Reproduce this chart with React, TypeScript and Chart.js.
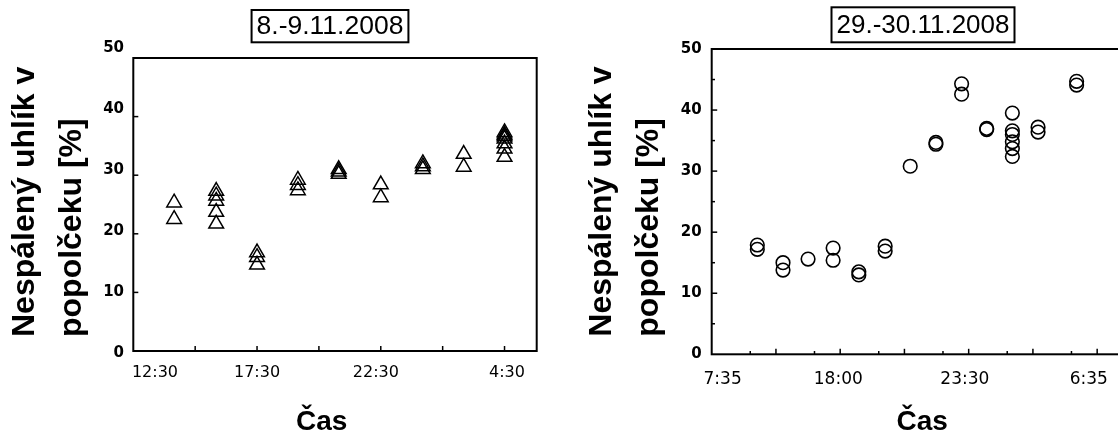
import React, { useEffect, useRef } from 'react';
import { Chart, registerables } from 'chart.js';

Chart.register(...registerables);
Chart.defaults.font.family = 'Liberation Sans';
Chart.defaults.color = '#000';

// ---------- texts ----------
const leftTitle = '8.-9.11.2008';
const rightTitle = '29.-30.11.2008';
const yAxisTitle = ['Nespálený uhlík v', 'popolčeku [%]'];
const xAxisTitle = 'Čas';

// ---------- left chart (8.-9.11.2008) ----------
const leftGroupX = [0.66, 1.34, 2.0, 2.66, 3.32, 4.0, 4.68, 5.34, 6.0];
const leftGroupY = [
  [25.3, 22.5],
  [27.3, 26.5, 25.6, 23.7, 21.7],
  [16.8, 16.0, 14.7],
  [29.2, 28.3, 27.4],
  [31.0, 30.6, 30.2],
  [28.4, 26.2],
  [32.0, 31.5, 31.0],
  [33.6, 31.4],
  [37.3, 36.9, 36.6, 36.2, 35.4, 34.5, 33.1],
];
const leftXLabels = ['12:30', '17:30', '22:30', '4:30'];
const leftXLabelAt = [0.35, 2.0, 3.92, 6.04];
const leftXMajor = [1, 2, 3, 4, 5, 6];
const leftYMajor = [10, 20, 30, 40];
const yLabelValues = [0, 10, 20, 30, 40, 50];

// ---------- right chart (29.-30.11.2008) ----------
const rightGroupX = [0.71, 1.11, 1.5, 1.89, 2.29, 2.7, 3.09, 3.49, 3.89, 4.28, 4.68, 5.08, 5.68];
const rightGroupY = [
  [17.9, 17.2],
  [15.0, 13.8],
  [15.6],
  [17.4, 15.4],
  [13.5, 13.0],
  [17.7, 16.9],
  [30.8],
  [34.7, 34.4],
  [44.3, 42.6],
  [37.0, 36.8],
  [39.5, 36.6, 36.0, 34.8, 33.7, 32.4],
  [37.2, 36.4],
  [44.7, 44.1],
];
const rightXLabels = ['7:35', '18:00', '23:30', '6:35'];
const rightXLabelAt = [0.17, 1.97, 3.94, 5.87];
const rightXMajor = [1, 2, 3, 4, 5, 6];
const rightXMinor = [0.6, 1.6, 2.6, 3.6, 4.6, 5.6];
const rightYMajor = [10, 20, 30, 40];
const rightYMinor = [5, 15, 25, 35, 45];

function toPoints(xs: number[], ys: number[][]) {
  const pts: { x: number; y: number }[] = [];
  xs.forEach((x, i) => ys[i].forEach((y) => pts.push({ x, y })));
  return pts;
}

// frame, inward tick marks and the boxed title
const decor = {
  id: 'decor',
  afterDraw(chart: any, _args: any, o: any) {
    const { ctx, chartArea: a } = chart;
    const xs = chart.scales.x;
    const ys = chart.scales.y;
    ctx.save();
    ctx.strokeStyle = '#000';
    ctx.lineWidth = 2;
    ctx.strokeRect(a.left, a.top, a.right - a.left, a.bottom - a.top);
    ctx.lineWidth = 1.5;
    const seg = (x1: number, y1: number, x2: number, y2: number) => {
      ctx.beginPath();
      ctx.moveTo(x1, y1);
      ctx.lineTo(x2, y2);
      ctx.stroke();
    };
    (o.majorX || []).forEach((v: number) => {
      const p = xs.getPixelForValue(v);
      seg(p, a.bottom, p, a.bottom - o.majorLen);
    });
    (o.minorX || []).forEach((v: number) => {
      const p = xs.getPixelForValue(v);
      seg(p, a.bottom, p, a.bottom - o.minorLen);
    });
    (o.majorY || []).forEach((v: number) => {
      const p = ys.getPixelForValue(v);
      seg(a.left, p, a.left + o.majorLen, p);
    });
    (o.minorY || []).forEach((v: number) => {
      const p = ys.getPixelForValue(v);
      seg(a.left, p, a.left + o.minorLen, p);
    });
    const t = chart.options.plugins.title;
    const tb = chart.titleBlock;
    if (t && t.display && tb) {
      ctx.font = `${t.font.weight || 'normal'} ${t.font.size}px ${t.font.family}`;
      const w = ctx.measureText(t.text).width;
      const cx = (tb.left + tb.right) / 2;
      ctx.lineWidth = 2;
      ctx.strokeRect(cx - w / 2 - o.boxPadX, o.boxTop, w + 2 * o.boxPadX, o.boxHeight);
    }
    ctx.restore();
  },
};

const tickFontY = { family: 'DejaVu Sans', size: 15, weight: 'bold' };
const yTitleFont = { family: 'Liberation Sans', size: 32, weight: 'bold', lineHeight: 1.46 };
const xTitleFont = { family: 'Liberation Sans', size: 28, weight: 'bold' };

// an empty scale used only to carry an axis title or reserve space
function blank(position: string, stack: string, stackWeight: number, weight: number, size: number, title?: any): any {
  return {
    type: 'linear',
    position,
    stack,
    stackWeight,
    weight,
    ticks: { display: false },
    grid: { display: false, drawTicks: false },
    border: { display: false },
    title: title || { display: false },
    afterFit: (s: any) => {
      if (position === 'left' || position === 'right') s.width = size;
      else s.height = size;
    },
  };
}

function leftConfig(): any {
  return {
    type: 'scatter',
    data: {
      datasets: [
        {
          data: toPoints(leftGroupX, leftGroupY),
          pointStyle: 'triangle',
          pointRadius: 8.5,
          borderWidth: 1.5,
          borderColor: '#000',
          backgroundColor: 'rgba(0,0,0,0)',
          xAxisID: 'x',
          yAxisID: 'y',
        },
      ],
    },
    options: {
      animation: false,
      responsive: false,
      events: [],
      layout: { padding: 0 },
      plugins: {
        legend: { display: false },
        tooltip: { enabled: false },
        title: {
          display: true,
          text: leftTitle,
          color: '#000',
          font: { family: 'Liberation Sans', size: 26.5, weight: 'normal' },
          padding: { top: 10.3, bottom: 15.9 },
        },
        decor: {
          majorX: leftXMajor,
          majorY: leftYMajor,
          majorLen: 5,
          minorLen: 3,
          boxPadX: 5,
          boxTop: 10,
          boxHeight: 32.3,
        },
      },
      scales: {
        x: {
          type: 'linear',
          position: 'bottom',
          min: 0,
          max: 6.52,
          afterBuildTicks: (s: any) => {
            s.ticks = leftXLabelAt.map((v) => ({ value: v }));
          },
          ticks: {
            autoSkip: false,
            maxRotation: 0,
            padding: 12.7,
            color: '#000',
            font: { family: 'DejaVu Sans', size: 16 },
            callback: (_v: any, i: number) => leftXLabels[i],
          },
          grid: { display: false, drawTicks: false },
          border: { display: false },
          afterFit: (s: any) => {
            s.height = 44;
          },
        },
        xt: blank('bottom', 'bt', 376.8, 10, 45, {
          display: true,
          text: xAxisTitle,
          color: '#000',
          font: xTitleFont,
          padding: { top: 0, bottom: 1.2 },
        }),
        xz: blank('bottom', 'bt', 26.6, 11, 45),
        y: { type: 'linear', position: 'left', min: 0, max: 50, display: false },
        yl: {
          type: 'linear',
          position: 'left',
          min: 0.33,
          max: 48.31,
          afterBuildTicks: (s: any) => {
            s.ticks = yLabelValues.map((v) => ({ value: v }));
          },
          ticks: {
            autoSkip: false,
            padding: 9.3,
            color: '#000',
            font: tickFontY,
            callback: (v: any) => String(v),
          },
          grid: { display: false, drawTicks: false },
          border: { display: false },
          afterFit: (s: any) => {
            s.width = 33.3;
          },
        },
        yt: blank('left', 'lt', 279, 11, 100, {
          display: true,
          text: yAxisTitle,
          align: 'start',
          color: '#000',
          font: yTitleFont,
          padding: { top: 2, bottom: 0 },
        }),
        yz: blank('left', 'lt', 14, 10, 100),
        sp: blank('right', 'rs', 1, 0, 123.3),
      },
    },
    plugins: [decor],
  };
}

function rightConfig(): any {
  return {
    type: 'scatter',
    data: {
      datasets: [
        {
          data: toPoints(rightGroupX, rightGroupY),
          pointStyle: 'circle',
          pointRadius: 6.8,
          borderWidth: 1.6,
          borderColor: '#000',
          backgroundColor: 'rgba(0,0,0,0)',
          xAxisID: 'x',
          yAxisID: 'y',
        },
      ],
    },
    options: {
      animation: false,
      responsive: false,
      events: [],
      layout: { padding: 0 },
      plugins: {
        legend: { display: false },
        tooltip: { enabled: false },
        title: {
          display: true,
          text: rightTitle,
          color: '#000',
          font: { family: 'Liberation Sans', size: 26, weight: 'normal' },
          padding: { top: 10, bottom: 7.8 },
        },
        decor: {
          majorX: rightXMajor,
          minorX: rightXMinor,
          majorY: rightYMajor,
          minorY: rightYMinor,
          majorLen: 5.5,
          minorLen: 3.3,
          boxPadX: 5,
          boxTop: 7.3,
          boxHeight: 35,
        },
      },
      scales: {
        x: {
          type: 'linear',
          position: 'bottom',
          min: 0,
          max: 6.55,
          afterBuildTicks: (s: any) => {
            s.ticks = rightXLabelAt.map((v) => ({ value: v }));
          },
          ticks: {
            autoSkip: false,
            maxRotation: 0,
            padding: 15.5,
            color: '#000',
            font: { family: 'DejaVu Sans', size: 17 },
            callback: (_v: any, i: number) => rightXLabels[i],
          },
          grid: { display: false, drawTicks: false },
          border: { display: false },
          title: { display: true, text: xAxisTitle, color: '#000', font: xTitleFont, padding: { top: 0, bottom: 1.2 } },
          afterFit: (s: any) => {
            s.height = 85.7;
          },
        },
        y: {
          type: 'linear',
          position: 'left',
          min: 0,
          max: 50,
          afterBuildTicks: (s: any) => {
            s.ticks = yLabelValues.map((v) => ({ value: v }));
          },
          ticks: {
            autoSkip: false,
            padding: 10,
            color: '#000',
            font: tickFontY,
            callback: (v: any) => String(v),
          },
          grid: { display: false, drawTicks: false },
          border: { display: false },
          afterFit: (s: any) => {
            s.width = 51.7;
          },
        },
        yt: blank('left', 'lt', 287.7, 11, 100, {
          display: true,
          text: yAxisTitle,
          align: 'start',
          color: '#000',
          font: yTitleFont,
          padding: { top: 19.1, bottom: 0 },
        }),
        yz: blank('left', 'lt', 17.6, 10, 100),
        sp: blank('right', 'rs', 1, 0, 153.5),
      },
    },
    plugins: [decor],
  };
}

export default function App() {
  const leftRef = useRef<HTMLCanvasElement>(null);
  const rightRef = useRef<HTMLCanvasElement>(null);

  useEffect(() => {
    const c1 = new Chart(leftRef.current as HTMLCanvasElement, leftConfig());
    const c2 = new Chart(rightRef.current as HTMLCanvasElement, rightConfig());
    return () => {
      c1.destroy();
      c2.destroy();
    };
  }, []);

  return (
    <div
      style={{
        position: 'absolute',
        left: 0,
        top: 0,
        width: 1118,
        height: 434,
        overflow: 'hidden',
        background: '#fff',
      }}
    >
      <canvas ref={leftRef} width={660} height={440} style={{ position: 'absolute', left: 0, top: 0 }} />
      <canvas ref={rightRef} width={726} height={440} style={{ position: 'absolute', left: 560, top: 0 }} />
    </div>
  );
}
